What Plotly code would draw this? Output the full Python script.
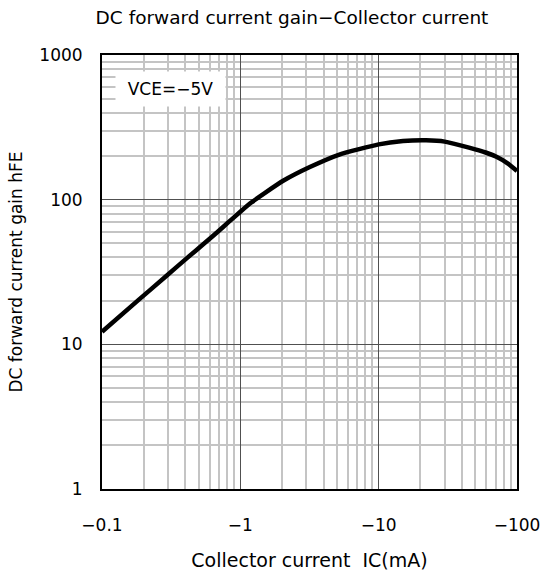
import plotly.graph_objects as go

ic_ma = [0.1, 0.183, 0.293, 0.413, 0.555, 0.69, 0.817, 1.0, 1.2, 1.5, 2.04, 3.18, 5.2, 10.0, 15.0, 22.0, 30.0, 45.0, 60.0, 71.0, 85.0, 100.0]
hfe = [12.2, 20.2, 29.8, 39.6, 50.3, 60.2, 69.6, 82.5, 95.5, 111.0, 135.0, 168.0, 205.0, 241.0, 254.0, 257.0, 252.0, 229.0, 211.0, 198.0, 179.0, 158.0]

x_tickvals = [0.1, 1, 10, 100]
x_ticktext = ["\u22120.1", "\u22121", "\u221210", "\u2212100"]
y_tickvals = [1, 10, 100, 1000]
y_ticktext = ["1", "10", "100", "1000"]
x_minor = [m * d for d in (0.1, 1, 10) for m in range(2, 10)]
y_minor = [m * d for d in (1, 10, 100) for m in range(2, 10)]

FONT = "DejaVu Sans, sans-serif"

fig = go.Figure()
fig.add_trace(go.Scatter(x=ic_ma, y=hfe, mode="lines",
                         line=dict(color="black", width=4.5, shape="spline", smoothing=0.5),
                         showlegend=False, hoverinfo="skip"))

fig.update_layout(
    width=541, height=571,
    margin=dict(l=102, r=24, t=55, b=82, autoexpand=False),
    paper_bgcolor="white", plot_bgcolor="white",
    font=dict(family=FONT, size=17, color="black"),
    title=dict(text="DC forward current gain\u2212Collector current",
               x=292 / 541, xanchor="center", y=1 - 18 / 571, yanchor="middle",
               font=dict(size=18.5)),
    annotations=[dict(text="VCE=\u22125V", xref="paper", yref="paper",
                      x=(170.5 - 102) / 415, y=1 - (89 - 55) / 434,
                      xanchor="center", yanchor="middle", showarrow=False,
                      width=109, height=34, align="center", valign="middle",
                      bgcolor="white", borderpad=0, font=dict(size=17))],
)
fig.update_xaxes(type="log", range=[-1, 2], tickvals=x_tickvals, ticktext=x_ticktext,
                 automargin=False,
                 showgrid=True, gridcolor="#505050", gridwidth=1,
                 minor=dict(tickvals=x_minor, showgrid=True, gridcolor="#c4c4c4", gridwidth=2, ticks=""),
                 showline=True, linecolor="black", linewidth=2, mirror=True,
                 ticks="", ticklabelstandoff=20, zeroline=False,
                 title=dict(text="Collector current  IC(mA)", standoff=22, font=dict(size=19)),
                 tickfont=dict(size=17))
fig.update_yaxes(type="log", range=[0, 3], tickvals=y_tickvals, ticktext=y_ticktext,
                 automargin=False,
                 showgrid=True, gridcolor="#505050", gridwidth=1,
                 minor=dict(tickvals=y_minor, showgrid=True, gridcolor="#c4c4c4", gridwidth=2, ticks=""),
                 showline=True, linecolor="black", linewidth=2, mirror=True,
                 ticks="", ticklabelstandoff=14, zeroline=False,
                 title=dict(text="DC forward current gain hFE", standoff=12, font=dict(size=17)),
                 tickfont=dict(size=17))

fig.write_html("out.html")
